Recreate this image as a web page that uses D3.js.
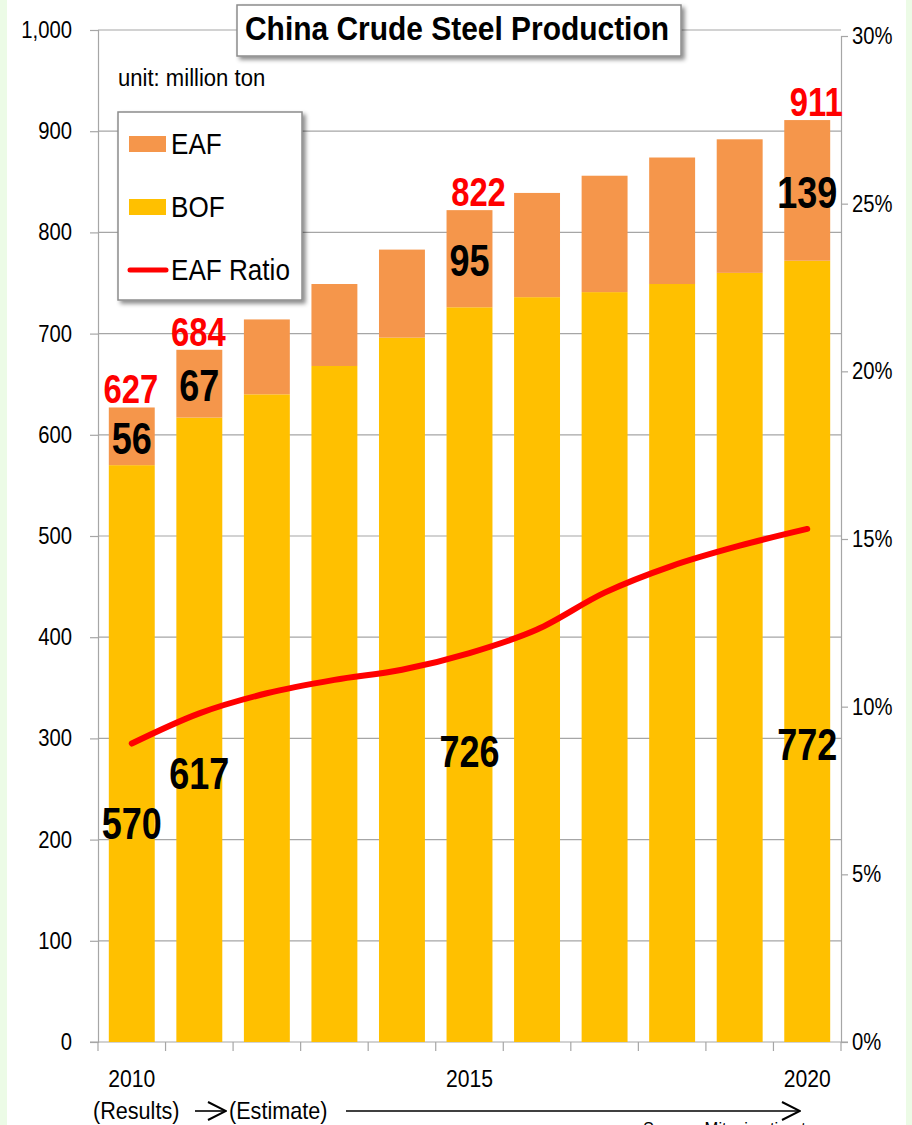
<!DOCTYPE html>
<html>
<head>
<meta charset="utf-8">
<script src="https://cdn.jsdelivr.net/npm/d3@7"></script>
<style>
  html, body { margin: 0; padding: 0; background: #fff; }
  svg { display: block; font-family: "Liberation Sans", Arial, sans-serif; }
</style>
</head>
<body>
<svg id="chart" width="912" height="1125"></svg>
<script>
// data (million ton)
const years = [2010, 2011, 2012, 2013, 2014, 2015, 2016, 2017, 2018, 2019, 2020];
const bof = [570, 617, 640, 668, 696, 726, 736, 741, 749, 760, 772];
const total = [627, 684, 714, 749, 783, 822, 839, 856, 874, 892, 911];
const eafRatio = [8.9, 9.8, 10.4, 10.8, 11.1, 11.6, 12.3, 13.4, 14.2, 14.8, 15.3]; // %

// annotations
const labelYears = [2010, 2011, 2015, 2020];
const eafLabels = [56, 67, 95, 139];
const bofLabelAt = [216, 265, 287, 294]; // where the BOF number sits, in million ton
const xTickLabels = [2010, 2015, 2020];
const leftTicks = d3.range(0, 1001, 100);
const rightTicks = [0, 5, 10, 15, 20, 25, 30];

const EAF_COLOR = "#f5964b", BOF_COLOR = "#ffc000", LINE_COLOR = "#ff0000";

const svg = d3.select("#chart");

// shadow filter for title and legend boxes
const defs = svg.append("defs");
defs.append("filter").attr("id", "shadow").attr("x", "-10%").attr("y", "-10%").attr("width", "130%").attr("height", "140%")
    .append("feDropShadow").attr("dx", 3).attr("dy", 3).attr("stdDeviation", 2)
    .attr("flood-color", "#000").attr("flood-opacity", 0.45);
defs.append("marker").attr("id", "arrow").attr("viewBox", "0 0 20 20").attr("refX", 19).attr("refY", 10)
    .attr("markerWidth", 20).attr("markerHeight", 20).attr("markerUnits", "userSpaceOnUse").attr("orient", "auto")
    .append("path").attr("d", "M1,1 L19,10 L1,19").attr("fill", "none").attr("stroke", "#000").attr("stroke-width", 2);

// light green frame at the edges
svg.append("rect").attr("x", 0).attr("y", 0).attr("width", 7).attr("height", 1125).attr("fill", "#ecfbe6");
svg.append("rect").attr("x", 906).attr("y", 0).attr("width", 6).attr("height", 1125).attr("fill", "#ecfbe6");

const x = d3.scaleBand().domain(years).range([98, 841]).paddingInner(0.32).paddingOuter(0.16);
const y = d3.scaleLinear().domain([0, 1000]).range([1042, 30]);
const yR = d3.scaleLinear().domain([0, 30]).range([1042, 36]);

// gridlines
svg.append("g").selectAll("line").data(leftTicks.filter(d => d > 0)).join("line")
    .attr("x1", 98).attr("x2", 841).attr("y1", d => y(d)).attr("y2", d => y(d))
    .attr("stroke", "#a6a6a6").attr("stroke-width", 1.2);

// left axis
const gL = svg.append("g").attr("transform", "translate(98,0)")
    .call(d3.axisLeft(y).tickValues(leftTicks).tickSize(8).tickFormat(""));
gL.select(".domain").attr("stroke", "#a6a6a6").attr("stroke-width", 1.2);
gL.selectAll(".tick line").attr("stroke", "#a6a6a6").attr("stroke-width", 1.2);

// right axis
const gR = svg.append("g").attr("transform", "translate(841,0)")
    .call(d3.axisRight(yR).tickValues(rightTicks).tickSize(7).tickFormat(""));
gR.select(".domain").attr("stroke", "#a6a6a6").attr("stroke-width", 1.2);
gR.selectAll(".tick line").attr("stroke", "#a6a6a6").attr("stroke-width", 1.2);

// bottom axis: ticks between categories
const step = x.step();
const bounds = d3.range(years.length + 1).map(i => 98 + i * step);
svg.append("g").selectAll("line").data(bounds).join("line")
    .attr("x1", d => d).attr("x2", d => d).attr("y1", 1042).attr("y2", 1051)
    .attr("stroke", "#a6a6a6").attr("stroke-width", 1.2);
svg.append("line").attr("x1", 90).attr("x2", 848).attr("y1", 1042).attr("y2", 1042)
    .attr("stroke", "#a6a6a6").attr("stroke-width", 1.2);

// bars
const bars = svg.append("g");
bars.selectAll(".bof").data(years).join("rect").attr("class", "bof")
    .attr("x", d => x(d)).attr("width", x.bandwidth())
    .attr("y", (d, i) => y(bof[i])).attr("height", (d, i) => y(0) - y(bof[i]))
    .attr("fill", BOF_COLOR);
bars.selectAll(".eaf").data(years).join("rect").attr("class", "eaf")
    .attr("x", d => x(d)).attr("width", x.bandwidth())
    .attr("y", (d, i) => y(total[i])).attr("height", (d, i) => y(bof[i]) - y(total[i]))
    .attr("fill", EAF_COLOR);

// EAF ratio line
const line = d3.line().x((d, i) => x(years[i]) + x.bandwidth() / 2).y(d => yR(d)).curve(d3.curveMonotoneX);
svg.append("path").datum(eafRatio).attr("d", line)
    .attr("fill", "none").attr("stroke", LINE_COLOR).attr("stroke-width", 6)
    .attr("stroke-linecap", "round").attr("stroke-linejoin", "round");

// text helper with horizontal squeeze
function label(g, px, py, str, o) {
    const t = g.append("text")
        .attr("transform", `translate(${px},${py}) scale(${o.sx || 1},1)`)
        .attr("text-anchor", o.anchor || "start")
        .attr("font-size", o.size).attr("font-weight", o.bold ? "bold" : "normal")
        .attr("fill", o.fill || "#000").text(str);
    if (o.mid) t.attr("dominant-baseline", "central");
    return t;
}

// axis numbers
const fmt = d3.format(",");
leftTicks.forEach(v => label(svg, 72, y(v) + 8, fmt(v), { size: 23, anchor: "end", sx: 0.88 }));
rightTicks.forEach(v => label(svg, 852, yR(v) + 8, v + "%", { size: 23, sx: 0.88 }));

const ann = svg.append("g");
labelYears.forEach((yr, k) => {
    const i = years.indexOf(yr);
    const cx = x(yr) + x.bandwidth() / 2;
    label(ann, cx + (k >= 2 ? 9 : -1), y(total[i]) - 4, total[i], { size: 41, bold: true, fill: LINE_COLOR, anchor: "middle", sx: 0.8 });
    label(ann, cx, (y(total[i]) + y(bof[i])) / 2 + 2, eafLabels[k], { size: 45, bold: true, anchor: "middle", sx: 0.8, mid: true });
    label(ann, cx, y(bofLabelAt[k]), bof[i], { size: 45, bold: true, anchor: "middle", sx: 0.8, mid: true });
});

// x labels
xTickLabels.forEach(yr => {
    label(svg, x(yr) + x.bandwidth() / 2, 1087, yr, { size: 24, anchor: "middle", sx: 0.88 });
});

// (Results) -> (Estimate) ------->
label(svg, 93, 1119, "(Results)", { size: 24, sx: 0.9 });
svg.append("line").attr("x1", 195).attr("x2", 226).attr("y1", 1111).attr("y2", 1111)
    .attr("stroke", "#000").attr("stroke-width", 1.6).attr("marker-end", "url(#arrow)");
label(svg, 229, 1119, "(Estimate)", { size: 24, sx: 0.9 });
svg.append("line").attr("x1", 346).attr("x2", 800).attr("y1", 1111).attr("y2", 1111)
    .attr("stroke", "#000").attr("stroke-width", 1.6).attr("marker-end", "url(#arrow)");
label(svg, 643, 1135, "Source: Mitsui estimates", { size: 18, sx: 0.92 });

// unit
label(svg, 118, 86, "unit: million ton", { size: 24, sx: 0.92 });

// title box
svg.append("rect").attr("x", 237).attr("y", 5).attr("width", 444).attr("height", 51)
    .attr("fill", "#fff").attr("stroke", "#8c8c8c").attr("stroke-width", 1.5).attr("filter", "url(#shadow)");
svg.append("text").attr("x", 245).attr("y", 40).attr("font-size", 33).attr("font-weight", "bold")
    .attr("textLength", 424).attr("lengthAdjust", "spacingAndGlyphs").text("China Crude Steel Production");

// legend box
const lg = svg.append("g");
lg.append("rect").attr("x", 118).attr("y", 112).attr("width", 184).attr("height", 188)
    .attr("fill", "#fff").attr("stroke", "#8c8c8c").attr("stroke-width", 1.5).attr("filter", "url(#shadow)");
const legendItems = [
    { name: "EAF", type: "rect", color: EAF_COLOR, y: 144 },
    { name: "BOF", type: "rect", color: BOF_COLOR, y: 207 },
    { name: "EAF Ratio", type: "line", color: LINE_COLOR, y: 270 }
];
legendItems.forEach(it => {
    if (it.type === "rect") {
        lg.append("rect").attr("x", 129).attr("y", it.y - 8).attr("width", 37).attr("height", 16).attr("fill", it.color);
    } else {
        lg.append("line").attr("x1", 130).attr("x2", 166).attr("y1", it.y).attr("y2", it.y)
            .attr("stroke", it.color).attr("stroke-width", 5).attr("stroke-linecap", "round");
    }
    label(lg, 171, it.y + 10, it.name, { size: 29, sx: 0.9 });
});
</script>
</body>
</html>
